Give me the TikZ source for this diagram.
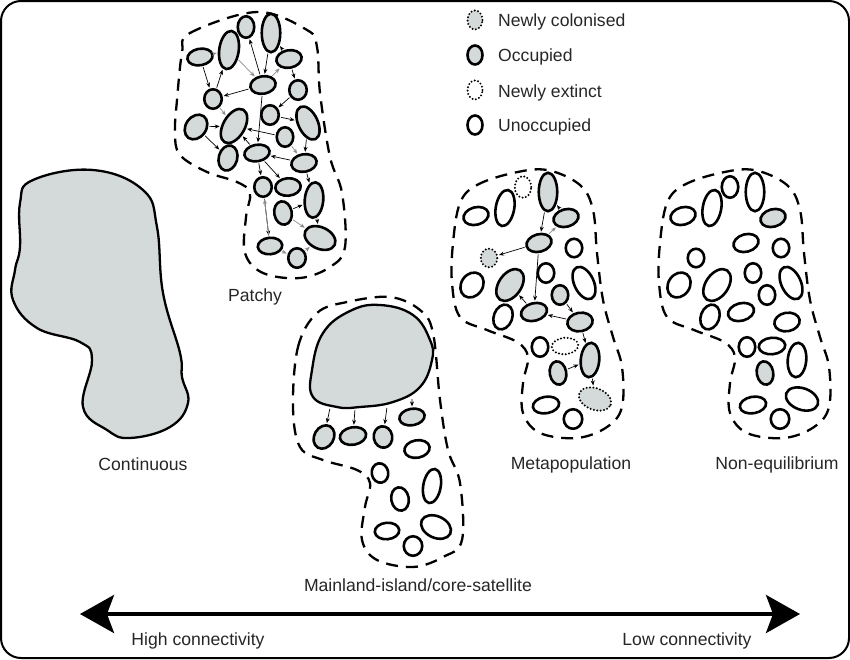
\documentclass[tikz,border=0pt]{standalone}
\usepackage{fontspec}
\setmainfont{Liberation Sans}
\usetikzlibrary{arrows.meta,shapes.geometric}
\definecolor{patchgrey}{RGB}{212,217,217}

\begin{document}
\begin{tikzpicture}[x=1pt, y=-1pt,
    patch/.style={ellipse, draw, inner sep=0pt, line width=2.6pt},
    occ/.style={patch, fill=patchgrey},
    unocc/.style={patch, fill=white},
    colon/.style={patch, fill=patchgrey, line width=2.2pt, line cap=round, dash pattern=on 0pt off 3.4pt},
    extinct/.style={patch, fill=white, line width=2.2pt, line cap=round, dash pattern=on 0pt off 3.4pt},
    blob/.style={draw, fill=patchgrey, line width=2.3pt},
    habitat/.style={draw, line width=2.3pt, dash pattern=on 12pt off 8pt},
    link/.style={-{Stealth[length=5pt, width=4pt]}, line width=0.7pt, shorten <=1pt, shorten >=1pt},
    faint/.style={link, draw=black!45},
    title/.style={inner sep=0pt, font=\fontsize{17.6}{20}\selectfont, text=black!85},
    axis/.style={line width=4pt, {Stealth[length=34pt, width=38pt, inset=7pt]}-{Stealth[length=34pt, width=38pt, inset=7pt]}}
]
\useasboundingbox (0,0) rectangle (850,659);
\draw[line width=2pt, rounded corners=20pt] (1,1) rectangle (849,658);

% continuous
\draw[blob] plot[smooth cycle, tension=0.7] coordinates {(20,203) (33,180) (93,170) (143,190) (157,227) (163,293) (180,353) (182,377) (188,403) (170,427) (130,438) (107,430) (83,407) (92,360) (80,342) (37,328) (13,300) (15,270) (20,247)};
\node[title, anchor=base] (contlbl) at (143,470) {Continuous};

% patchy
\draw[habitat] plot[smooth cycle, tension=0.6] coordinates {(182,53) (190,33) (257,12) (307,30) (317,47) (320,93) (330,157) (342,193) (345,247) (330,267) (300,278) (263,273) (245,253) (246,217) (250,193) (237,182) (207,172) (180,155) (175,133) (177,100)};
\foreach \n/\x/\y/\w/\h/\r in {1/246/27/15/20/0, 2/271/33/17/37/0, 3/200/57/24/15/10, 4/229/50/18/37/-8,
    5/289/59/24/16/10, 6/263/85/24/16/10, 7/298/90/16/18/0, 8/213/99/16/18/0, 9/270/115/16/18/0,
    10/308/123/18/34/25, 11/196/127/19/25/-35, 12/234/126/20/36/-30, 13/285/137/15/18/0,
    14/257/153/24/15/10, 15/228/158/17/24/-15, 16/304/163/24/16/10, 17/263/187/16/18/0,
    18/288/187/24/16/5, 19/314/200/17/34/-5, 20/283/213/16/22/10, 21/320/238/31/20/-25,
    22/270/246/23/15/5, 23/297/258/16/18/0}
  \node[occ, minimum width=\w+1.5, minimum height=\h+1.5, rotate=\r] (p\n) at (\x,\y) {};
\foreach \a/\b in {3/8, 8/4, 6/1, 2/6, 5/2, 5/7, 6/8, 7/9, 6/14, 9/10, 11/12, 11/15, 13/12,
    14/12, 10/16, 16/14, 14/17, 14/18, 16/19, 20/19, 17/22, 19/21}
  \draw[link] (p\a) -- (p\b);
\foreach \a/\b in {6/5, 4/6, 8/12, 3/4, 22/17, 20/21, 23/21, 22/23, 13/16}
  \draw[faint] (p\a) -- (p\b);
\node[title, anchor=base] (patchlbl) at (255,301) {Patchy};

% mainland-island
\draw[habitat] plot[smooth cycle, tension=0.6] coordinates {(293,407) (298,347) (317,313) (347,302) (390,297) (420,310) (433,333) (440,400) (448,450) (460,483) (462,540) (443,557) (413,567) (377,560) (362,540) (365,507) (370,483) (357,470) (323,460) (300,447)};
\draw[blob] plot[smooth cycle, tension=0.7] coordinates {(313,397) (312,370) (323,333) (350,311) (380,305) (413,315) (430,340) (432,360) (420,387) (393,402) (360,407) (337,407)};
\foreach \n/\x/\y/\w/\h/\r/\s in {1/324/437/18/23/-30/occ, 2/353/436/25/16/10/occ, 3/383/437/17/20/10/occ,
    4/412/417/24/15/10/occ, 5/417/449/24/16/10/unocc, 6/380/473/15/18/10/unocc, 7/432/486/16/33/-10/unocc,
    8/400/499/16/22/10/unocc, 9/387/531/23/15/5/unocc, 10/436/527/30/20/-25/unocc, 11/413/546/17/18/0/unocc}
  \node[\s, minimum width=\w+1.5, minimum height=\h+1.5, rotate=\r] (i\n) at (\x,\y) {};
\foreach \n/\x/\y in {1/330/408, 2/355/409, 3/387/407, 4/412/398}
  \coordinate (ml\n) at (\x,\y);
\foreach \n in {1,...,4}
  \draw[link] (ml\n) -- (i\n);
\node[title, anchor=base] (mainlbl) at (418,591) {Mainland-island/core-satellite};

% metapopulation and non-equilibrium (same layout, shifted)
\draw[habitat] plot[smooth cycle, tension=0.6] coordinates {(460,203) (477,185) (513,173) (547,170) (580,185) (593,210) (597,253) (603,300) (613,337) (622,367) (622,407) (607,427) (577,438) (540,433) (523,413) (523,383) (528,357) (517,342) (487,330) (460,317) (452,283) (453,243)};
\begin{scope}[xshift=207pt]
\draw[habitat] plot[smooth cycle, tension=0.6] coordinates {(460,203) (477,185) (513,173) (547,170) (580,185) (593,210) (597,253) (603,300) (613,337) (622,367) (622,407) (607,427) (577,438) (540,433) (523,413) (523,383) (528,357) (517,342) (487,330) (460,317) (452,283) (453,243)};
\end{scope}
\foreach \n/\x/\y/\w/\h/\r/\sa/\sb in {1/523/187/15/20/0/extinct/unocc, 2/548/192/17/37/0/occ/unocc,
    3/476/216/24/16/15/unocc/unocc, 4/505/208/17/35/-10/unocc/unocc, 5/566/218/24/16/15/occ/occ,
    6/539/243/24/16/15/occ/unocc, 7/574/248/15/17/0/unocc/unocc, 8/489/258/15/17/0/colon/unocc,
    9/546/273/15/18/0/unocc/unocc, 10/584/283/18/33/25/unocc/unocc, 11/472/285/20/25/-35/unocc/unocc,
    12/510/285/21/34/-35/occ/unocc, 13/560/295/15/18/0/occ/unocc, 14/534/312/25/16/15/occ/unocc,
    15/503/317/17/24/-20/unocc/unocc, 16/580/322/24/17/10/occ/unocc, 17/540/347/15/18/0/unocc/unocc,
    18/565/346/25/15/5/extinct/unocc, 19/590/360/17/33/-5/occ/unocc, 20/558/373/15/22/10/occ/occ,
    21/595/399/32/20/-20/colon/unocc, 22/546/405/25/15/10/unocc/unocc, 23/573/419/17/18/0/unocc/unocc}
{
  \node[\sa, minimum width=\w+1.5, minimum height=\h+1.5, rotate=\r] (m\n) at (\x,\y) {};
  \node[\sb, minimum width=\w+1.5, minimum height=\h+1.5, rotate=\r] (n\n) at (\x+207,\y) {};
}
\foreach \a/\b in {2/6, 5/2, 6/8, 6/14, 14/12, 13/16, 16/14, 16/19, 20/19, 19/21}
  \draw[link] (m\a) -- (m\b);
\draw[faint] (m6) -- (m5);
\node[title, anchor=base] (metalbl) at (571,469) {Metapopulation};
\node[title, anchor=base] (nonlbl) at (777,469) {Non-equilibrium};

% legend
\node[colon, minimum width=15, minimum height=19] (keycol) at (475,20) {};
\node[occ, minimum width=15, minimum height=19] (keyocc) at (475,55) {};
\node[extinct, minimum width=15, minimum height=19] (keyext) at (475,90) {};
\node[unocc, minimum width=15, minimum height=19] (keyun) at (475,125) {};
\node[title, anchor=base west] (keycoltxt) at (498,26) {Newly colonised};
\node[title, anchor=base west] (keyocctxt) at (498,61) {Occupied};
\node[title, anchor=base west] (keyexttxt) at (498,97) {Newly extinct};
\node[title, anchor=base west] (keyuntxt) at (498,131) {Unoccupied};

% connectivity axis
\coordinate (hi) at (80,614);
\coordinate (lo) at (800,614);
\draw[axis] (hi) -- (lo);
\node[title, anchor=base] (hilbl) at (198,645) {High connectivity};
\node[title, anchor=base] (lolbl) at (687,645) {Low connectivity};
\end{tikzpicture}
\end{document}
